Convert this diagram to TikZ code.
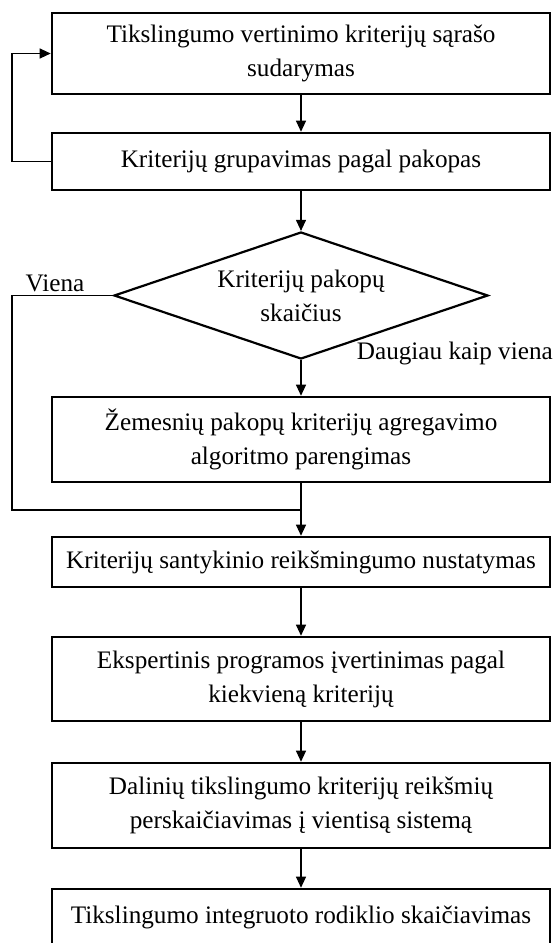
\documentclass[tikz,border=0pt]{standalone}
\usepackage{fontspec}
\setmainfont{Liberation Serif}
\usetikzlibrary{shapes.geometric,arrows.meta}
\begin{document}
\begin{tikzpicture}[x=1pt,y=-1pt,
  every node/.style={font=\fontsize{25.2}{34}\selectfont},
  stepbox/.style={draw, line width=2.6pt, minimum width=498pt, inner sep=0pt, align=center},
  decision/.style={diamond, aspect=2.94, draw, line width=2.2pt, inner sep=0pt, align=center,
    minimum width=374pt, minimum height=127pt},
  flow/.style={line width=1.1pt, -{Triangle[length=11pt,width=10pt]}},
  plain/.style={line width=1.1pt},
  lbl/.style={inner sep=0pt}]
\useasboundingbox (0,0) rectangle (554,943);

% process steps
\node[stepbox, minimum height=81pt] (b1) at (301,53.5) {Tikslingumo vertinimo kriterijų sąrašo\\sudarymas};
\node[stepbox, minimum height=57pt] (b2) at (301,161.5) {Kriterijų grupavimas pagal pakopas};
\node[decision] (d) at (301,295.5) {Kriterijų pakopų\\skaičius};
\node[stepbox, minimum height=85pt] (b3) at (301,439.5) {Žemesnių pakopų kriterijų agregavimo\\algoritmo parengimas};
\node[stepbox, minimum height=50pt] (b4) at (301,562) {Kriterijų santykinio reikšmingumo nustatymas};
\node[stepbox, minimum height=84pt] (b5) at (301,679) {Ekspertinis programos įvertinimas pagal\\kiekvieną kriterijų};
\node[stepbox, minimum height=85pt] (b6) at (301,805.5) {Dalinių tikslingumo kriterijų reikšmių\\perskaičiavimas į vientisą sistemą};
\node[stepbox, minimum height=57pt] (b7) at (301,917.5) {Tikslingumo integruoto rodiklio skaičiavimas};

% branch labels
\node[lbl] (lv) at (55,283) {Viena};
\node[lbl, anchor=east] (ld) at (553,353) {Daugiau kaip viena};

% main flow
\draw[flow] (b1) -- (b2);
\draw[flow] (b2) -- (d);
\draw[flow] (d) -- (b3);
\draw[flow] (b3) -- (b4);
\draw[flow] (b4) -- (b5);
\draw[flow] (b5) -- (b6);
\draw[flow] (b6) -- (b7);

% loop back to the list of criteria
\coordinate (fb) at (12,0);
\draw[flow] (b2.west) -- (b2.west -| fb) |- (b1.west);

% single-level branch joins below the aggregation step
\coordinate (jn) at (301,510);
\draw[plain] (d.west) -- (d.west -| fb) |- (jn);
\end{tikzpicture}
\end{document}
